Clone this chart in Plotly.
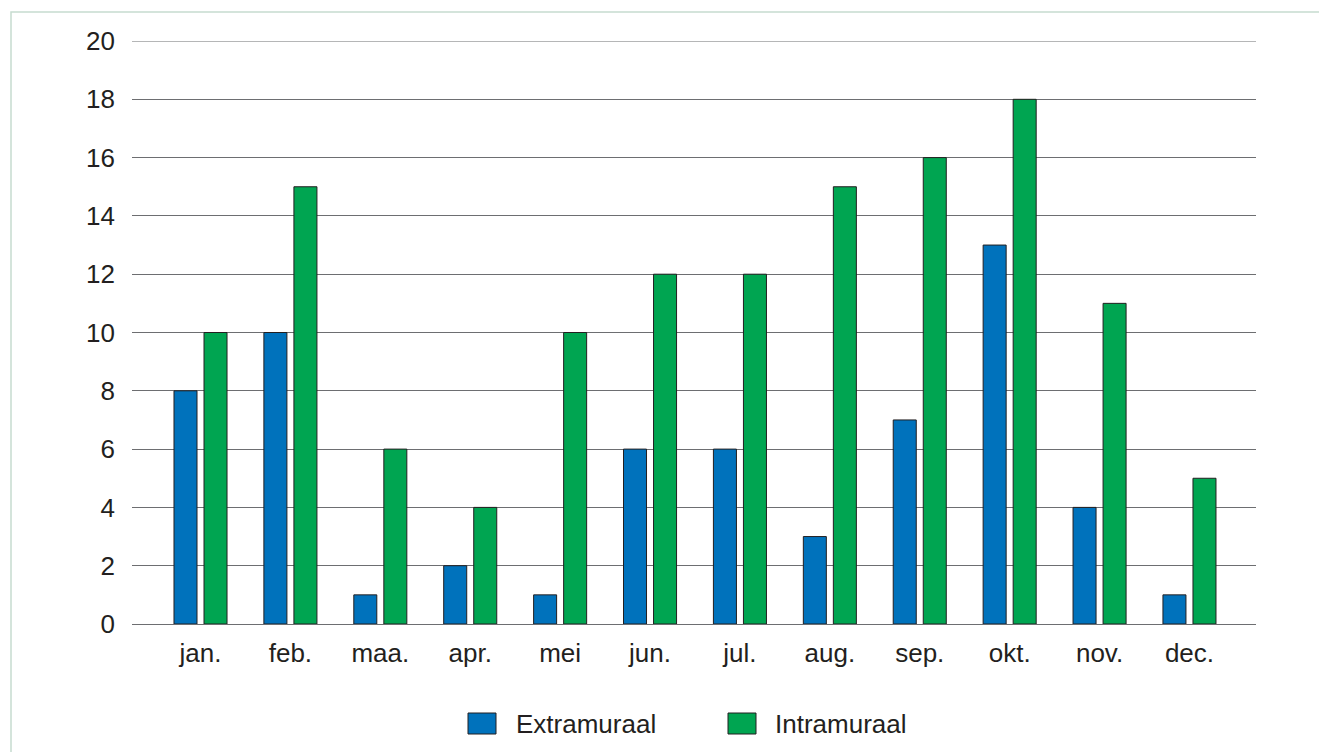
import plotly.graph_objects as go

# Monthly counts per care setting
months = ["jan.", "feb.", "maa.", "apr.", "mei", "jun.", "jul.", "aug.", "sep.", "okt.", "nov.", "dec."]
extramuraal = [8, 10, 1, 2, 1, 6, 6, 3, 7, 13, 4, 1]
intramuraal = [10, 15, 6, 4, 10, 12, 12, 15, 16, 18, 11, 5]
series_names = ["Extramuraal", "Intramuraal"]
y_max = 20

BLUE = "#0072bc"
GREEN = "#00a551"
OUTLINE = "#231f20"
TEXT = "#231f20"
GRID = "#6d6e71"
FONT = "Liberation Sans, Arial, Helvetica, sans-serif"
FS = 26

W, H = 1319, 752
ML, MR, MT, MB = 132, 63, 41, 128
PW, PH = W - ML - MR, H - MT - MB


def px_x(x):
    return (x - ML) / PW


def px_y(y):
    return (H - MB - y) / PH


bar_w = 0.256
fig = go.Figure()
fig.add_trace(go.Bar(
    x=months, y=extramuraal, name=series_names[0],
    width=bar_w, offset=-0.167 - bar_w / 2,
    marker=dict(color=BLUE, line=dict(color=OUTLINE, width=1)),
    showlegend=False,
))
fig.add_trace(go.Bar(
    x=months, y=intramuraal, name=series_names[1],
    width=bar_w, offset=0.167 - bar_w / 2,
    marker=dict(color=GREEN, line=dict(color=OUTLINE, width=1)),
    showlegend=False,
))

shapes = [
    # frame around the figure (top and left edges visible)
    dict(type="rect", xref="paper", yref="paper",
         x0=px_x(11), x1=px_x(W + 20), y0=px_y(H + 20), y1=px_y(12),
         line=dict(color="#c6dccf", width=1.5), fillcolor="rgba(0,0,0,0)", layer="below"),
    # top gridline at the axis maximum
    dict(type="line", xref="paper", yref="y", x0=0, x1=1, y0=y_max, y1=y_max,
         line=dict(color=GRID, width=1), layer="below"),
]
annotations = []

# legend swatches and labels
legend_items = [
    (series_names[0], BLUE, 468, 514),
    (series_names[1], GREEN, 728, 773),
]
for name, color, bx, tx in legend_items:
    shapes.append(dict(type="rect", xref="paper", yref="paper",
                       x0=px_x(bx), x1=px_x(bx + 28), y0=px_y(734), y1=px_y(713),
                       line=dict(color=OUTLINE, width=1), fillcolor=color))
    annotations.append(dict(xref="paper", yref="paper", x=px_x(tx), y=px_y(723.5),
                            xanchor="left", yanchor="middle", text=name, showarrow=False,
                            font=dict(family=FONT, size=FS, color=TEXT)))

fig.update_layout(
    width=W, height=H,
    margin=dict(l=ML, r=MR, t=MT, b=MB),
    paper_bgcolor="white", plot_bgcolor="white",
    font=dict(family=FONT, size=FS, color=TEXT),
    barmode="overlay",
    shapes=shapes,
    annotations=annotations,
    xaxis=dict(
        type="category", range=[-0.762, 11.74],
        showgrid=False, showline=False, zeroline=False,
        ticks="", ticklabelstandoff=11,
        tickfont=dict(family=FONT, size=FS, color=TEXT),
    ),
    yaxis=dict(
        range=[0, y_max], dtick=2, tick0=0,
        showgrid=True, gridcolor=GRID, gridwidth=1,
        zeroline=True, zerolinecolor=GRID, zerolinewidth=1,
        showline=False, ticks="", ticklabelstandoff=16,
        tickfont=dict(family=FONT, size=FS, color=TEXT),
    ),
)

fig.write_html("out.html")
